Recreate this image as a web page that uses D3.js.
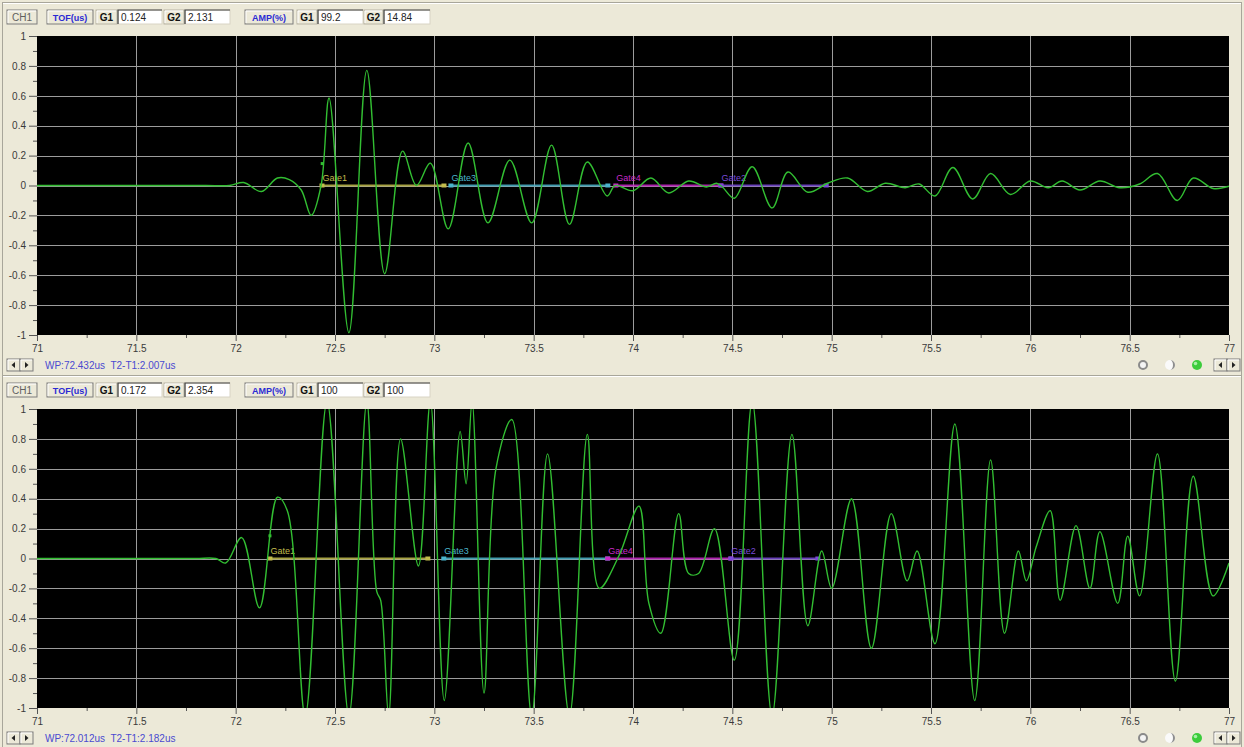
<!DOCTYPE html>
<html>
<head>
<meta charset="utf-8">
<script src="https://cdn.jsdelivr.net/npm/d3@7"></script>
<style>
  body { margin: 0; background: #ece9d8; }
  svg { display: block; font-family: "Liberation Sans", Arial, sans-serif; }
</style>
</head>
<body>
<svg id="scope" width="1244" height="747"></svg>
<script>
// ---- axis ticks ----
const xTicks = [71, 71.5, 72, 72.5, 73, 73.5, 74, 74.5, 75, 75.5, 76, 76.5, 77];
const xMinorTicks = [71.25, 71.75, 72.25, 72.75, 73.25, 73.75, 74.25, 74.75, 75.25, 75.75, 76.25, 76.75];
const yTicks = [1, 0.8, 0.6, 0.4, 0.2, 0, -0.2, -0.4, -0.6, -0.8, -1];
const yMinorTicks = [0.9, 0.7, 0.5, 0.3, 0.1, -0.1, -0.3, -0.5, -0.7, -0.9];

// ---- channel A trace (time in us, amplitude normalised) ----
const topTime = [71.00, 71.30, 71.60, 71.85, 71.97, 72.04, 72.13, 72.21, 72.27, 72.33, 72.38, 72.43, 72.47, 72.57, 72.66, 72.75,
  72.84, 72.91, 72.98, 73.07, 73.17, 73.27, 73.38, 73.49, 73.59, 73.68, 73.77, 73.87, 73.91, 74.00, 74.09, 74.18,
  74.28, 74.37, 74.42, 74.45, 74.51, 74.60, 74.70, 74.78, 74.88, 74.98, 75.08, 75.18, 75.27, 75.37, 75.44, 75.52,
  75.61, 75.71, 75.80, 75.90, 76.00, 76.09, 76.16, 76.25, 76.35, 76.45, 76.55, 76.64, 76.74, 76.82, 76.92, 77.00];
const topAmp = [0, 0, 0, 0, 0, 0.02, -0.04, 0.05, 0.04, -0.03, -0.20, 0.0, 0.585, -0.985, 0.77, -0.59,
  0.23, 0.0, 0.15, -0.29, 0.284, -0.25, 0.17, -0.25, 0.27, -0.26, 0.157, -0.07, 0.0, -0.035, 0.05, -0.05,
  0.03, -0.01, 0.015, -0.01, -0.085, 0.125, -0.15, 0.09, -0.045, 0.015, 0.05, -0.04, 0.015, -0.015, 0.01, -0.07,
  0.12, -0.09, 0.08, -0.06, 0.03, -0.015, 0.03, -0.03, 0.03, -0.015, 0.01, 0.08, -0.10, 0.05, -0.02, -0.005];

// ---- channel B trace ----
const bottomTime = [71.00, 71.30, 71.60, 71.80, 71.90, 71.95, 72.03, 72.12, 72.21, 72.26, 72.35, 72.46, 72.57, 72.66, 72.71, 72.73, 72.77,
  72.83, 72.92, 72.98, 73.05, 73.13, 73.16, 73.19, 73.25, 73.31, 73.39, 73.49, 73.57, 73.68, 73.77, 73.83, 73.93,
  74.03, 74.08, 74.14, 74.23, 74.28, 74.33, 74.41, 74.51, 74.60, 74.70, 74.80, 74.88, 74.95, 75.00, 75.10, 75.20,
  75.30, 75.38, 75.43, 75.52, 75.62, 75.72, 75.80, 75.87, 75.94, 75.98, 76.03, 76.10, 76.15, 76.23, 76.30, 76.35,
  76.44, 76.49, 76.55, 76.64, 76.73, 76.82, 76.92, 77.00];
const bottomAmp = [0, 0, 0, 0, 0, -0.03, 0.14, -0.33, 0.41, 0.32, -1.05, 1.05, -1.05, 1.05, -0.22, -0.28, -1.05,
  0.80, -0.05, 1.05, -0.95, 0.85, 0.5, 1.05, -0.9, 0.6, 0.93, -1.05, 0.7, -1.05, 0.83, -0.2, 0.02,
  0.35, -0.3, -0.5, 0.3, -0.1, -0.1, 0.2, -0.68, 1.05, -1.05, 0.83, -0.45, 0.05, -0.2, 0.4, -0.6,
  0.3, -0.15, 0.05, -0.57, 0.9, -0.95, 0.66, -0.5, 0.05, -0.15, 0.08, 0.32, -0.28, 0.22, -0.2, 0.18,
  -0.3, 0.15, -0.25, 0.7, -0.82, 0.55, -0.25, -0.03];

// ---- gates ----
const gateNames = ["Gate1", "Gate3", "Gate4", "Gate2"];
const topGateStart = [72.432, 73.081, 73.911, 74.440];
const topGateEnd = [73.046, 73.871, 74.440, 74.970];
const bottomGateStart = [72.170, 73.045, 73.870, 74.490];
const bottomGateEnd = [72.965, 73.870, 74.490, 74.928];
const topMarker = [72.433, 0.15];
const bottomMarker = [72.170, 0.155];

// ---- readouts ----
const topTof = ["0.124", "2.131"];
const topAmpPct = ["99.2", "14.84"];
const bottomTof = ["0.172", "2.354"];
const bottomAmpPct = ["100", "100"];
const topStatus = "WP:72.432us  T2-T1:2.007us";
const bottomStatus = "WP:72.012us  T2-T1:2.182us";

// ---- styling ----
const gateColors = { Gate1: "#c2bc4c", Gate3: "#4ab4cc", Gate4: "#c828c8", Gate2: "#7a4ad8" };
const traceColor = "#32be32";
const gridColor = "#9c9c9c";
const face = "#ece9d8";

const svg = d3.select("#scope");
svg.append("rect").attr("width", 1244).attr("height", 747).attr("fill", face);

function button(g, x0, y0, w, h, label, opts = {}) {
  g.append("rect").attr("x", x0).attr("y", y0).attr("width", w).attr("height", h)
    .attr("fill", face).attr("stroke", opts.border || "#7c7c7c");
  g.append("path").attr("d", `M${x0 + 1},${y0 + h - 1}V${y0 + 1}H${x0 + w - 1}`)
    .attr("fill", "none").attr("stroke", "#ffffff");
  if (label) {
    g.append("text").attr("x", x0 + w / 2).attr("y", y0 + h / 2 + 3.5).attr("text-anchor", "middle")
      .attr("font-size", opts.size || 10).attr("font-weight", opts.bold ? "bold" : "normal")
      .attr("fill", opts.color || "#555").text(label);
  }
}

function field(g, x0, y0, w, h, value) {
  g.append("rect").attr("x", x0).attr("y", y0).attr("width", w).attr("height", h)
    .attr("fill", "#ffffff").attr("stroke", "#d8d4c4");
  g.append("path").attr("d", `M${x0},${y0 + h}V${y0}H${x0 + w}`)
    .attr("fill", "none").attr("stroke", "#404040").attr("stroke-width", 1.2);
  g.append("text").attr("x", x0 + 3).attr("y", y0 + h / 2 + 3.5).attr("font-size", 10)
    .attr("fill", "#222").text(value);
}

function arrowPair(g, x0, y0) {
  [0, 13].forEach((dx, i) => {
    button(g, x0 + dx, y0, 13, 12, null);
    const cx = x0 + dx + 6.5, cy = y0 + 6;
    const tri = i === 0 ? `M${cx + 1.5},${cy - 3}L${cx - 2},${cy}L${cx + 1.5},${cy + 3}Z`
                        : `M${cx - 1.5},${cy - 3}L${cx + 2},${cy}L${cx - 1.5},${cy + 3}Z`;
    g.append("path").attr("d", tri).attr("fill", "#222");
  });
}

function drawPanel(cfg) {
  const oy = cfg.offset;
  const g = svg.append("g");

  // frame
  g.append("rect").attr("x", 2.5).attr("y", oy + 2.5).attr("width", 1239).attr("height", 373)
    .attr("fill", face).attr("stroke", "#a8a69a");
  g.append("line").attr("x1", 3).attr("x2", 1241).attr("y1", oy + 3.5).attr("y2", oy + 3.5)
    .attr("stroke", "#ffffff");

  // header row
  const hy = oy + 10;
  const lab = { color: "#111", bold: true, size: 10, border: "#b8b4a4" };
  button(g, 7, hy, 30, 14, "CH1", { color: "#606060" });
  button(g, 47, hy, 46, 14, "TOF(us)", { color: "#2b2bd4", bold: true, size: 9 });
  button(g, 96, hy, 21, 14, "G1", lab);
  field(g, 118, hy, 44, 14, cfg.tof[0]);
  button(g, 164, hy, 20, 14, "G2", lab);
  field(g, 185, hy, 45, 14, cfg.tof[1]);
  button(g, 245, hy, 48, 14, "AMP(%)", { color: "#2b2bd4", bold: true, size: 9 });
  button(g, 297, hy, 20, 14, "G1", lab);
  field(g, 318, hy, 45, 14, cfg.amp[0]);
  button(g, 364, hy, 19, 14, "G2", lab);
  field(g, 384, hy, 46, 14, cfg.amp[1]);

  // scales
  const x = d3.scaleLinear().domain([71, 77]).range([37, 1229]);
  const y = d3.scaleLinear().domain([-1, 1]).range([oy + 335, oy + 36]);

  // plot area
  g.append("rect").attr("x", x(71)).attr("y", y(1)).attr("width", x(77) - x(71)).attr("height", y(-1) - y(1))
    .attr("fill", "#000");

  const grid = g.append("g").attr("stroke", gridColor).attr("stroke-width", 1);
  grid.selectAll("line.v").data(xTicks.slice(1, -1)).join("line")
    .attr("x1", d => Math.round(x(d)) + 0.5).attr("x2", d => Math.round(x(d)) + 0.5)
    .attr("y1", y(1)).attr("y2", y(-1));
  grid.selectAll("line.h").data(yTicks.slice(1, -1)).join("line")
    .attr("y1", d => Math.round(y(d)) + 0.5).attr("y2", d => Math.round(y(d)) + 0.5)
    .attr("x1", x(71)).attr("x2", x(77));

  // axes
  const styleAxis = a => {
    a.select(".domain").remove();
    a.selectAll("line").attr("stroke", "#555");
    a.selectAll("text").attr("fill", "#3a3a3a").attr("font-size", 10)
      .attr("font-family", '"Liberation Sans", Arial, sans-serif');
  };
  g.append("g").attr("transform", `translate(${x(71)},0)`)
    .call(d3.axisLeft(y).tickValues(yTicks).tickSize(8).tickPadding(3).tickFormat(d => String(d)))
    .call(styleAxis);
  g.append("g").attr("transform", `translate(${x(71)},0)`)
    .call(d3.axisLeft(y).tickValues(yMinorTicks).tickSize(4).tickFormat(""))
    .call(styleAxis);
  g.append("g").attr("transform", `translate(0,${y(-1)})`)
    .call(d3.axisBottom(x).tickValues(xTicks).tickSize(6).tickPadding(4).tickFormat(d => String(d)))
    .call(styleAxis);
  g.append("g").attr("transform", `translate(0,${y(-1)})`)
    .call(d3.axisBottom(x).tickValues(xMinorTicks).tickSize(3).tickFormat(""))
    .call(styleAxis);

  // clip for plot content
  const clipId = "clip" + cfg.id;
  g.append("clipPath").attr("id", clipId).append("rect")
    .attr("x", x(71)).attr("y", y(1)).attr("width", x(77) - x(71)).attr("height", y(-1) - y(1));
  const plot = g.append("g").attr("clip-path", `url(#${clipId})`);

  // gates
  gateNames.forEach((name, i) => {
    const c = gateColors[name];
    const x0 = x(cfg.gs[i]), x1 = x(cfg.ge[i]), gy = y(0);
    plot.append("line").attr("x1", x0).attr("x2", x1).attr("y1", gy).attr("y2", gy)
      .attr("stroke", c).attr("stroke-width", 2).attr("opacity", 0.85);
    [x0, x1].forEach(px => plot.append("rect").attr("x", px - 2).attr("y", gy - 2)
      .attr("width", 5).attr("height", 4).attr("fill", c));
    plot.append("text").attr("x", x0 + 1).attr("y", gy - 5).attr("font-size", 9)
      .attr("fill", c).text(name);
  });
  plot.append("rect").attr("x", x(cfg.marker[0]) - 1).attr("y", y(cfg.marker[1]) - 1)
    .attr("width", 3).attr("height", 3).attr("fill", traceColor);

  // waveform
  const pts = cfg.t.map((t, i) => [t, cfg.v[i]]);
  plot.append("path").datum(pts)
    .attr("d", d3.line().x(d => x(d[0])).y(d => y(d[1])).curve(d3.curveCatmullRom.alpha(0.5)))
    .attr("fill", "none").attr("stroke", traceColor).attr("stroke-width", 1.4);

  // status bar
  const sy = oy + 359;
  arrowPair(g, 7, sy);
  g.append("text").attr("x", 45).attr("y", sy + 10).attr("font-size", 10).attr("fill", "#4a4ad0")
    .attr("xml:space", "preserve").text(cfg.status);
  const cy = sy + 6;
  g.append("circle").attr("cx", 1143).attr("cy", cy).attr("r", 4).attr("fill", "#f4f4f4")
    .attr("stroke", "#8a8a8a").attr("stroke-width", 2);
  g.append("circle").attr("cx", 1170).attr("cy", cy).attr("r", 5).attr("fill", "#fafafa");
  g.append("path").attr("d", `M${1170},${cy - 5}A5,5 0 0,1 ${1170},${cy + 5}A3,5 0 0,0 ${1170},${cy - 5}Z`)
    .attr("fill", "#8e8e8e");
  g.append("circle").attr("cx", 1197).attr("cy", cy).attr("r", 5).attr("fill", "#3ccc3c");
  g.append("circle").attr("cx", 1195.5).attr("cy", cy - 1.5).attr("r", 1.8).attr("fill", "#a8f0a8");
  arrowPair(g, 1214, sy);
}

drawPanel({ id: "A", offset: 0, t: topTime, v: topAmp, gs: topGateStart, ge: topGateEnd,
  tof: topTof, amp: topAmpPct, status: topStatus, marker: topMarker });
drawPanel({ id: "B", offset: 373, t: bottomTime, v: bottomAmp, gs: bottomGateStart, ge: bottomGateEnd,
  tof: bottomTof, amp: bottomAmpPct, status: bottomStatus, marker: bottomMarker });
</script>
</body>
</html>
